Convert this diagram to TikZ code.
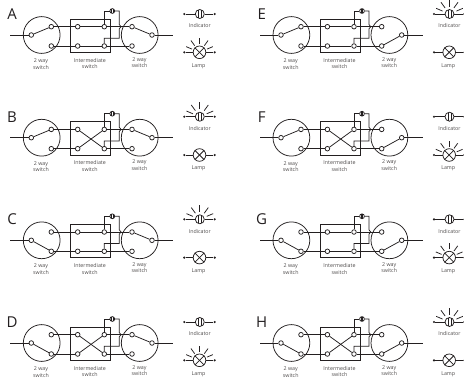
\documentclass[tikz,border=0pt]{standalone}
\usepackage{fontspec}
\setmainfont{Open Sans}
\usetikzlibrary{calc}
\definecolor{ink}{HTML}{231F20}
\tikzset{
  wire/.style={draw=ink,line width=0.75pt},
  contact/.style={circle,draw=ink,fill=white,line width=0.75pt,minimum size=4.6pt,inner sep=0pt},
  dot/.style={circle,fill=ink,minimum size=2.4pt,inner sep=0pt},
  swcircle/.style={circle,draw=ink,line width=0.75pt,minimum size=36.8pt,inner sep=0pt},
  swbox/.style={rectangle,draw=ink,line width=0.9pt,minimum width=40pt,minimum height=33.6pt,inner sep=0pt},
  lab/.style={font=\fontsize{5.3}{6.6}\selectfont,text=ink!80,align=center,inner sep=0pt},
  letter/.style={font=\fontsize{15}{15}\selectfont,text=ink,inner sep=0pt},
  lampc/.style={circle,draw=ink,fill=white,line width=0.75pt,minimum size=12.6pt,inner sep=0pt},
  indc/.style={circle,draw=ink,fill=white,line width=0.75pt,minimum size=9pt,inner sep=0pt},
  tinyc/.style={circle,draw=ink,fill=white,line width=0.75pt,minimum size=4.8pt,inner sep=0pt},
}
% #1 id/letter, #2 dx, #3 dy, #4 left up, #5 cross, #6 right up, #7 indicator lit
\newcommand{\Panel}[7]{%
\begin{scope}[shift={(#2,#3)}]
  \node[letter] (#1let) at (12,14) {#1};
  \node[swcircle] (#1lc) at (41.7,35) {};
  \node[swcircle] (#1rc) at (139.7,35) {};
  \node[swbox] (#1box) at (90.3,35.8) {};
  \node[contact] (#1lp) at (31.3,35) {};
  \node[contact] (#1lt) at (51.3,26.7) {};
  \node[contact] (#1lb) at (51.3,46) {};
  \node[contact] (#1mtl) at (77.7,26.7) {};
  \node[contact] (#1mbl) at (77.7,46) {};
  \node[contact] (#1mtr) at (104.3,26.7) {};
  \node[contact] (#1mbr) at (104.3,46) {};
  \node[contact] (#1rt) at (132,26.7) {};
  \node[contact] (#1rb) at (132,46) {};
  \node[contact] (#1rp) at (152,35) {};
  \coordinate (#1inl) at (10.3,35);
  \coordinate (#1outr) at (173.3,35);
  \node[tinyc] (#1ti) at (112.3,11) {};
  \coordinate (#1w1) at (119.3,11);
  \coordinate (#1w2) at (119.3,24.6);
  \coordinate (#1w3) at (119.3,28.8);
  \coordinate (#1w4) at (119.3,38.3);
  \coordinate (#1w5) at (104.3,38.3);
  \draw[wire] (#1inl) -- (#1lp);
  \draw[wire] (#1rp) -- (#1outr);
  \draw[wire] (#1lt) -- (#1mtl);
  \draw[wire] (#1lb) -- (#1mbl);
  \draw[wire] (#1mtr) -- (#1rt);
  \draw[wire] (#1mbr) -- (#1rb);
  \ifnum#4=1 \draw[wire] (#1lp) -- (#1lt); \else \draw[wire] (#1lp) -- (#1lb); \fi
  \ifnum#6=1 \draw[wire] (#1rp) -- (#1rt); \else \draw[wire] (#1rp) -- (#1rb); \fi
  \ifnum#5=1
    \draw[wire] (#1mtl) -- (#1mbr);
    \draw[wire] (#1mbl) -- (#1mtr);
  \else
    \draw[wire] (#1mtl) -- (#1mtr);
    \draw[wire] (#1mbl) -- (#1mbr);
  \fi
  \draw[wire] (#1mtr) |- (#1ti);
  \draw[wire] (#1ti) -- (#1w1) -- (#1w2) .. controls (121.6,25.4) and (121.6,28) .. (#1w3) -- (#1w4) -- (#1w5) -- (#1mbr);
  \draw[wire] ($(#1ti)+(-0.7,-2)$) -- ($(#1ti)+(-0.7,2)$);
  \draw[wire] ($(#1ti)+(0.7,-2)$) -- ($(#1ti)+(0.7,2)$);
  % indicator
  \node[dot] (#1id1) at (184.3,14) {};
  \node[dot] (#1id2) at (214.7,14) {};
  \node[indc] (#1ind) at (199.8,14) {};
  \draw[wire] (#1id1) -- (#1ind);
  \draw[wire] (#1ind) -- (#1id2);
  \draw[wire] ($(#1ind)+(-1.5,-4)$) -- ($(#1ind)+(-1.5,4)$);
  \draw[wire] ($(#1ind)+(1.5,-4)$) -- ($(#1ind)+(1.5,4)$);
  % lamp
  \node[dot] (#1ld1) at (184.3,52.3) {};
  \node[dot] (#1ld2) at (214.7,52.3) {};
  \node[lampc] (#1lamp) at (199.5,52.3) {};
  \draw[wire] (#1ld1) -- (#1lamp);
  \draw[wire] (#1lamp) -- (#1ld2);
  \draw[wire] (#1lamp.north west) -- (#1lamp.south east);
  \draw[wire] (#1lamp.north east) -- (#1lamp.south west);
  \ifnum#7=1
    \foreach \a in {203,234,270,306,337}
      \draw[wire] ($(#1ind)+(\a:7.5)$) -- ($(#1ind)+(\a:14.5)$);
  \else
    \foreach \a in {203,234,270,306,337}
      \draw[wire] ($(#1lamp)+(\a:8.2)$) -- ($(#1lamp)+(\a:14.5)$);
  \fi
  % labels
  \node[lab] (#1t1) at (41,64) {2 way\\switch};
  \node[lab] (#1t2) at (89.8,63.5) {Intermediate\\switch};
  \node[lab] (#1t3) at (139.5,62.5) {2 way\\switch};
  \node[lab] (#1t4) at (199.8,26) {Indicator};
  \node[lab] (#1t5) at (198.5,66) {Lamp};
\end{scope}}
\begin{document}
\begin{tikzpicture}[x=1pt,y=-1pt]
  \fill[white] (0,0) rectangle (464,378);
  \clip (0,0) rectangle (464,378);
  \Panel{A}{0}{0}{1}{0}{1}{0}
  \Panel{B}{0}{102.7}{1}{1}{1}{1}
  \Panel{C}{0}{205.3}{0}{0}{1}{1}
  \Panel{D}{0}{308}{0}{1}{1}{0}
  \Panel{E}{249.7}{0}{1}{0}{0}{1}
  \Panel{F}{249.7}{102.7}{1}{1}{0}{0}
  \Panel{G}{249.7}{205.3}{0}{0}{0}{0}
  \Panel{H}{249.7}{308}{0}{1}{0}{1}
\end{tikzpicture}
\end{document}
